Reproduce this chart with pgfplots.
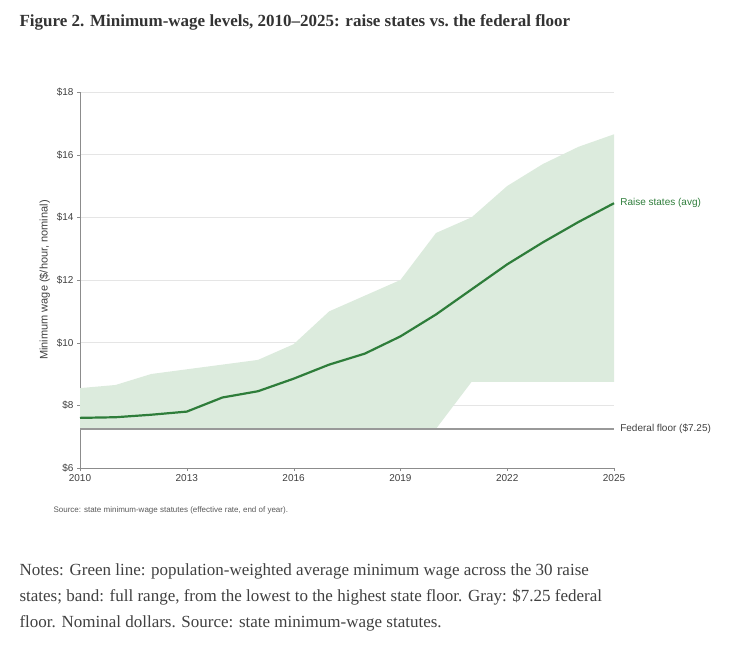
\documentclass[border=0pt]{standalone}
\usepackage{pgfplots}
\pgfplotsset{compat=1.18}
\usepackage{fontspec}
\setmainfont{Liberation Serif}
\newfontfamily\chartfont{Liberation Sans}
\definecolor{grn}{HTML}{2E7D3A}
\definecolor{band}{HTML}{DCEBDD}
\begin{document}
\begin{tikzpicture}
\path (0pt,0pt) rectangle (741pt,651pt);
\node[anchor=west,font=\fontsize{17}{20}\selectfont\bfseries,text=black!80] at (16pt,629pt) {Figure 2. Minimum-wage levels, 2010--2025: raise states vs.\ the federal floor};
\begin{axis}[at={(80pt,183pt)},anchor=south west,scale only axis,width=534pt,height=376pt,
 xmin=2010,xmax=2025,ymin=6,ymax=18,
 axis lines*=left, axis line style={black!45},
 xtick={2010,2013,...,2025}, ytick={6,8,...,18},
 xticklabel style={/pgf/number format/1000 sep=},
 yticklabel={\$\pgfmathprintnumber{\tick}},
 /pgf/number format/assume math mode=true,
 tick style={black!45}, tick align=outside, major tick length=3pt,
 ymajorgrids, grid style={black!10},
 ticklabel style={font=\chartfont\fontsize{10}{12}\selectfont,text=black!75},
 ylabel={Minimum wage (\$/hour, nominal)},
 ylabel style={font=\chartfont\fontsize{11}{13}\selectfont,text=black!75},
 clip=false]
\addplot[fill=band,draw=none] coordinates {
(2010,8.55)(2011,8.65)(2012,9.0)(2013,9.15)(2014,9.3)(2015,9.45)(2016,9.95)(2017,11.0)(2018,11.5)(2019,12.0)(2020,13.5)(2021,14.0)(2022,15.0)(2023,15.7)(2024,16.25)(2025,16.65)
(2025,8.75)(2024,8.75)(2023,8.75)(2022,8.75)(2021,8.75)(2020,7.25)(2019,7.25)(2018,7.25)(2017,7.25)(2016,7.25)(2015,7.25)(2014,7.25)(2013,7.25)(2012,7.25)(2011,7.25)(2010,7.25)} -- cycle;
\addplot[black!40,line width=1.5pt] coordinates {(2010,7.25)(2025,7.25)};
\addplot[grn,line width=2.2pt] coordinates {
(2010,7.6)(2011,7.62)(2012,7.7)(2013,7.8)(2014,8.25)(2015,8.45)(2016,8.85)(2017,9.3)(2018,9.65)(2019,10.2)(2020,10.9)(2021,11.7)(2022,12.5)(2023,13.2)(2024,13.85)(2025,14.45)};
\node[anchor=west,font=\chartfont\fontsize{10}{12}\selectfont,text=grn] at (axis cs:2025,14.45) {\ Raise states (avg)};
\node[anchor=west,font=\chartfont\fontsize{10}{12}\selectfont,text=black!75] at (axis cs:2025,7.25) {\ Federal floor (\$7.25)};
\end{axis}
\node[anchor=west,font=\chartfont\fontsize{8}{10}\selectfont,text=black!65] at (50pt,141pt) {Source: state minimum-wage statutes (effective rate, end of year).};
\node[anchor=north west,align=left,font=\fontsize{17}{26}\selectfont,text=black!75] at (16pt,91pt) {Notes: Green line: population-weighted average minimum wage across the 30 raise\\states; band: full range, from the lowest to the highest state floor. Gray: \$7.25 federal\\floor. Nominal dollars. Source: state minimum-wage statutes.};
\end{tikzpicture}
\end{document}
